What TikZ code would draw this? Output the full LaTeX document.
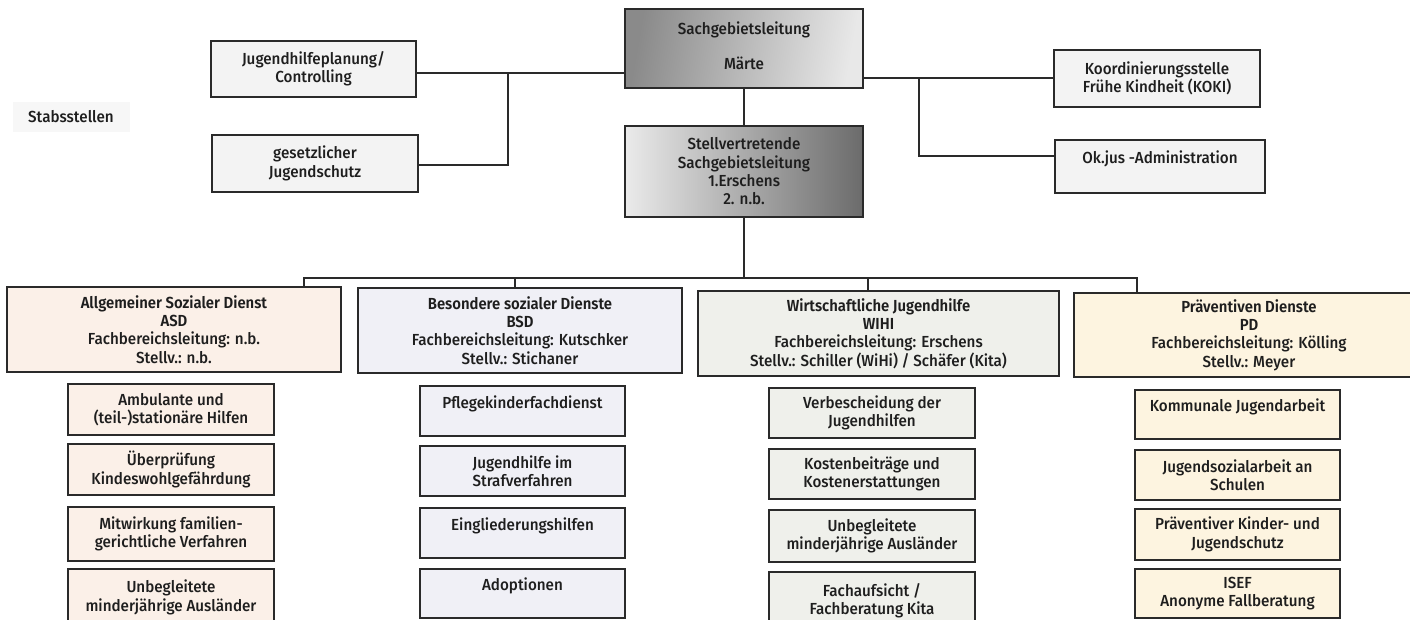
\documentclass[tikz,border=0pt]{standalone}
\usepackage{fontspec}
\setmainfont{Fira Sans}[UprightFont=* Medium, BoldFont=* SemiBold,
  UprightFeatures={FakeStretch=0.95}, BoldFeatures={FakeStretch=0.93}]
\usetikzlibrary{calc}
\definecolor{asdc}{HTML}{FBF0E8}
\definecolor{bsdc}{HTML}{F0F0F6}
\definecolor{wihic}{HTML}{EFF0EB}
\definecolor{pdc}{HTML}{FDF4E0}
\definecolor{stabc}{HTML}{F3F3F3}
\definecolor{linec}{HTML}{2A2A2A}
\definecolor{txtc}{HTML}{1E1E1E}
\tikzset{
  box/.style={draw=linec, line width=1.6pt, inner sep=0pt, align=center, text=txtc,
    font=\fontsize{16}{18.3}\selectfont},
  stab/.style={box, fill=stabc},
  asdbox/.style={box, fill=asdc},
  bsdbox/.style={box, fill=bsdc},
  wihibox/.style={box, fill=wihic},
  pdbox/.style={box, fill=pdc},
  topbox/.style={box, left color=black!46, right color=black!9, shading angle=80},
  stellbox/.style={box, left color=black!8, right color=black!58},
  conn/.style={draw=linec, line width=1.5pt},
}
\newcommand\bx[7]{%
  \pgfmathsetmacro\bw{#4-#2}\pgfmathsetmacro\bh{#5-#3}%
  \node[#6, minimum width=\bw pt, minimum height=\bh pt] (#1) at ({(#2+#4)/2},{(#3+#5)/2}) {#7};}
\begin{document}
\begin{tikzpicture}[x=1pt,y=-1pt]
\useasboundingbox (0,0) rectangle (1410,620);
\clip (0,0) rectangle (1410,620);
\fill[white] (0,0) rectangle (1410,620);

% Stabsstellen label
\node[fill=black!3, minimum width=117pt, minimum height=30pt, inner sep=0pt, text=txtc,
  font=\fontsize{16}{18.3}\selectfont] (stablabel) at (71,117) {Stabsstellen};

% top level
\bx{sach}{625}{9}{863}{88}{topbox}{\raisebox{4pt}{\begin{tabular}{@{}c@{}}Sachgebietsleitung\\[16.7pt]Märte\end{tabular}}}
\bx{stell}{625}{126}{863}{217}{stellbox}{Stellvertretende\\Sachgebietsleitung\\1.Erschens\\2. n.b.}

% staff units
\bx{jhp}{211}{41}{416}{97}{stab}{Jugendhilfeplanung/\\Controlling}
\bx{gjs}{212}{135}{418}{192}{stab}{gesetzlicher\\Jugendschutz}
\bx{koki}{1054}{50}{1260}{107}{stab}{Koordinierungsstelle\\Frühe Kindheit (KOKI)}
\bx{okjus}{1055}{140}{1265}{193}{stab}{Ok.jus -Administration\\\mbox{}}

% departments
\bx{asd}{7}{287}{341}{372}{asdbox}{\textbf{Allgemeiner Sozialer Dienst}\\\textbf{ASD}\\Fachbereichsleitung: n.b.\\Stellv.: n.b.}
\bx{bsd}{358}{288}{682}{373}{bsdbox}{\textbf{Besondere sozialer Dienste}\\\textbf{BSD}\\Fachbereichsleitung: Kutschker\\Stellv.: Stichaner}
\bx{wihi}{698}{291}{1059}{376}{wihibox}{\textbf{Wirtschaftliche Jugendhilfe}\\\textbf{WIHI}\\Fachbereichsleitung: Erschens\\Stellv.: Schiller (WiHi) / Schäfer (Kita)}
\bx{pd}{1074}{293}{1424}{377}{pdbox}{\textbf{Präventiven Dienste}\\\textbf{PD}\\Fachbereichsleitung: Kölling\\Stellv.: Meyer}

% ASD sub units
\bx{asd1}{68}{384}{274}{435}{asdbox}{Ambulante und\\(teil-)stationäre Hilfen}
\bx{asd2}{68}{444}{274}{495}{asdbox}{Überprüfung\\Kindeswohlgefährdung}
\bx{asd3}{68}{507}{274}{561}{asdbox}{Mitwirkung familien-\\gerichtliche Verfahren}
\bx{asd4}{68}{569}{274}{659}{asdbox}{Unbegleitete\\minderjährige Ausländer\\\mbox{}\\\mbox{}}

% BSD sub units
\bx{bsd1}{420}{386}{625}{436}{bsdbox}{Pflegekinderfachdienst\\\mbox{}}
\bx{bsd2}{420}{446}{625}{496}{bsdbox}{Jugendhilfe im\\Strafverfahren}
\bx{bsd3}{420}{508}{625}{558}{bsdbox}{Eingliederungshilfen\\\mbox{}}
\bx{bsd4}{420}{569}{625}{618}{bsdbox}{Adoptionen\\\mbox{}}

% WIHI sub units
\bx{wihi1}{769}{388}{975}{438}{wihibox}{Verbescheidung der\\Jugendhilfen}
\bx{wihi2}{769}{449}{975}{499}{wihibox}{Kostenbeiträge und\\Kostenerstattungen}
\bx{wihi3}{769}{510}{975}{562}{wihibox}{Unbegleitete\\minderjährige Ausländer}
\bx{wihi4}{769}{572}{975}{662}{wihibox}{Fachaufsicht /\\Fachberatung Kita\\\mbox{}\\\mbox{}}

% PD sub units
\bx{pd1}{1135}{390}{1340}{439}{pdbox}{Kommunale Jugendarbeit\\\mbox{}}
\bx{pd2}{1135}{450}{1340}{500}{pdbox}{Jugendsozialarbeit an\\Schulen}
\bx{pd3}{1135}{509}{1340}{560}{pdbox}{Präventiver Kinder- und\\Jugendschutz}
\bx{pd4}{1135}{569}{1340}{618}{pdbox}{ISEF\\Anonyme Fallberatung}

% connectors: top
\draw[conn] (sach.south) -- (stell.north);
\coordinate (jl) at (508,73);
\coordinate (jl2) at (508,165);
\draw[conn] (jhp.east |- jl) -- (sach.west |- jl);
\draw[conn] (jl) -- (jl2) -- (gjs.east |- jl2);
\coordinate (jr) at (919,78);
\coordinate (jr2) at (919,156);
\draw[conn] (sach.east |- jr) -- (koki.west |- jr);
\draw[conn] (jr) -- (jr2) -- (okjus.west |- jr2);

% bus
\coordinate (busL) at (304,278);
\coordinate (busB) at (515,278);
\coordinate (busW) at (868,278);
\coordinate (busR) at (1137,278);
\draw[conn] (stell.south) -- (stell.south |- busL);
\draw[conn] (busL |- asd.north) -- (busL) -- (busR) -- (busR |- pd.north);
\draw[conn] (busB) -- (busB |- bsd.north);
\draw[conn] (busW) -- (busW |- wihi.north);
\end{tikzpicture}
\end{document}
